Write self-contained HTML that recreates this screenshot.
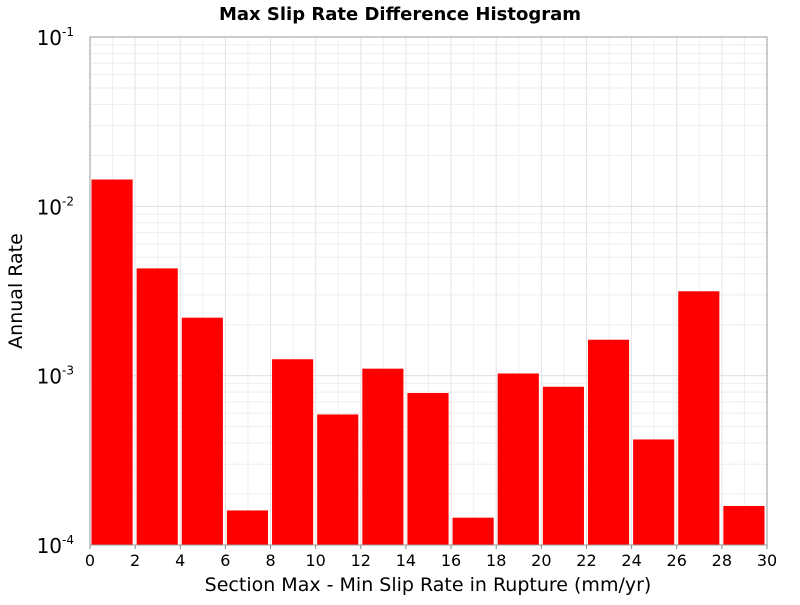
<!DOCTYPE html>
<html><head><meta charset="utf-8"><style>
body{margin:0;background:#fff;font-family:"Liberation Sans","DejaVu Sans",sans-serif}
svg text{font-family:"DejaVu Sans","Liberation Sans",sans-serif}
</style></head><body>
<svg id="chart" width="800" height="600" xmlns="http://www.w3.org/2000/svg">
<text x="400" y="20" text-anchor="middle" font-size="18" font-weight="bold">Max Slip Rate Difference Histogram</text>
<g id="grid"></g>
<g id="bars"></g>
<rect x="90" y="37" width="677" height="508" fill="none" stroke="#999" stroke-width="1"/>
<g id="xticks"></g>
<g id="yticks"></g>
<text x="428" y="591" text-anchor="middle" font-size="19">Section Max - Min Slip Rate in Rupture (mm/yr)</text>
<text transform="translate(22,291) rotate(-90)" text-anchor="middle" font-size="19">Annual Rate</text>
</svg>
<script>
const binStarts=[0,2,4,6,8,10,12,14,16,18,20,22,24,26,28];
const rates=[1.44e-2,4.3e-3,2.2e-3,1.6e-4,1.25e-3,5.9e-4,1.1e-3,7.9e-4,1.45e-4,1.03e-3,8.6e-4,1.63e-3,4.2e-4,3.15e-3,1.7e-4];
const binWidth=2;
const xTicks=[0,2,4,6,8,10,12,14,16,18,20,22,24,26,28,30];
const yExps=[-4,-3,-2,-1];
const NS="http://www.w3.org/2000/svg";
const L=90,R=767,T=37,B=545,xMin=0,xMax=30,yMinE=-4,yMaxE=-1;
const xs=v=>L+(v-xMin)/(xMax-xMin)*(R-L);
const ys=v=>B-(Math.log10(v)-yMinE)/(yMaxE-yMinE)*(B-T);
function mk(tag,attrs,parent){const e=document.createElementNS(NS,tag);for(const k in attrs)e.setAttribute(k,attrs[k]);parent.appendChild(e);return e;}
const grid=document.getElementById('grid');
for(let v=0;v<=30;v++){const l=mk('line',{x1:xs(v),x2:xs(v),y1:T,y2:B,stroke:v%2?'#f0f0f0':'#e4e4e4'},grid);
}
for(let e=yMinE;e<yMaxE;e++){for(let m=1;m<10;m++){const y=ys(m*Math.pow(10,e));const l=mk('line',{x1:L,x2:R,y1:y,y2:y,stroke:m==1?'#e0e0e0':'#eeeeee'},grid);
}}
const bars=document.getElementById('bars');
binStarts.forEach((s,i)=>{const x0=xs(s)+1.5,x1=xs(s+binWidth)-2.5;const y=ys(rates[i]);
const r=mk('rect',{x:x0,y:y,width:x1-x0,height:B-y,fill:'#ff0000'},bars);
});
const xt=document.getElementById('xticks');
xTicks.forEach(v=>{const t=mk('text',{x:xs(v),y:566,'text-anchor':'middle','font-size':'16'},xt);t.textContent=v;

const l=mk('line',{x1:xs(v),x2:xs(v),y1:B,y2:B+4,stroke:'#888'},xt);});
const yt=document.getElementById('yticks');
yExps.forEach(e=>{const y=ys(Math.pow(10,e));const t=mk('text',{x:74,y:y+8,'text-anchor':'end','font-size':'20'},yt);
t.textContent='10';const s=mk('tspan',{dy:'-9','font-size':'12'},t);s.textContent=String(e);

});
</script>
</body></html>
